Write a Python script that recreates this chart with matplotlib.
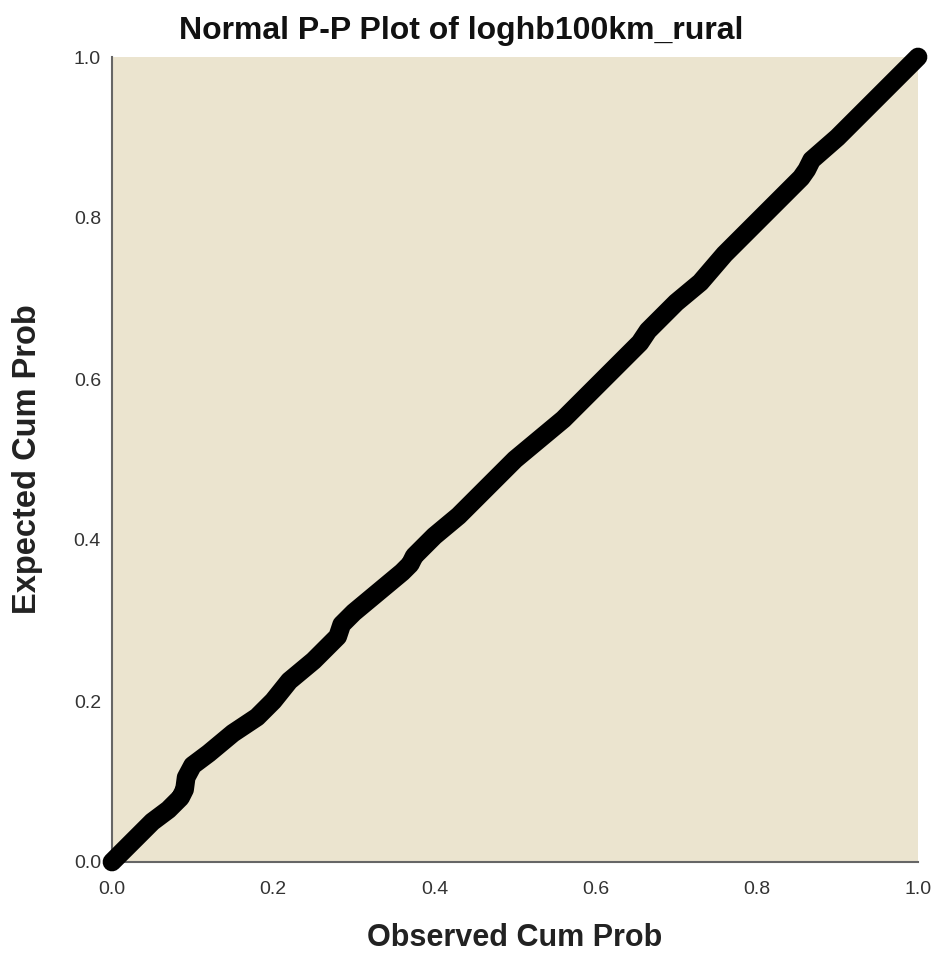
import matplotlib.pyplot as plt

plt.rcParams['font.family'] = ['Liberation Sans', 'DejaVu Sans']

# observed vs expected cumulative probabilities
observed = [0.0, 0.01, 0.03, 0.05, 0.07, 0.085, 0.09, 0.092, 0.10, 0.12, 0.15,
            0.18, 0.20, 0.22, 0.25, 0.27, 0.28, 0.285, 0.30, 0.33, 0.36, 0.37,
            0.375, 0.40, 0.43, 0.46, 0.48, 0.49, 0.50, 0.53, 0.56, 0.60, 0.63,
            0.645, 0.655, 0.665, 0.70, 0.73, 0.76, 0.80, 0.83, 0.855, 0.862,
            0.868, 0.90, 0.93, 0.96, 0.99, 1.0]
expected = [0.0, 0.01, 0.03, 0.05, 0.065, 0.08, 0.09, 0.105, 0.12, 0.135, 0.16,
            0.18, 0.20, 0.225, 0.25, 0.27, 0.28, 0.295, 0.31, 0.335, 0.36, 0.37,
            0.38, 0.405, 0.43, 0.46, 0.48, 0.49, 0.50, 0.525, 0.55, 0.59, 0.62,
            0.635, 0.645, 0.66, 0.695, 0.72, 0.755, 0.795, 0.825, 0.85, 0.86,
            0.872, 0.90, 0.93, 0.96, 0.99, 1.0]

fig = plt.figure(figsize=(9.34, 9.56), dpi=100)
ax = fig.add_axes([112 / 934, 1 - 862 / 956, 806 / 934, 805 / 956])
ax.set_facecolor('#ebe4cf')

ax.plot(observed, expected, color='black', lw=13.5, solid_capstyle='round',
        solid_joinstyle='round', clip_on=False, zorder=3)

ax.set_xlim(0, 1)
ax.set_ylim(0, 1)
ax.set_xticks([0, 0.2, 0.4, 0.6, 0.8, 1.0])
ax.set_yticks([0, 0.2, 0.4, 0.6, 0.8, 1.0])
ax.tick_params(length=0, labelsize=14, labelcolor='#333333')
ax.tick_params(axis='x', pad=14)
ax.tick_params(axis='y', pad=8)
for s in ['top', 'right']:
    ax.spines[s].set_visible(False)
for s in ['left', 'bottom']:
    ax.spines[s].set_color('#666666')
    ax.spines[s].set_linewidth(1.5)

fig.text(0.4935, 1 - 31 / 956, 'Normal P-P Plot of loghb100km_rural', fontsize=23,
         fontweight='bold', color='#111111', ha='center', va='center')
ax.set_xlabel('Observed Cum Prob', fontsize=22, fontweight='bold', color='#222222',
              labelpad=18)
ax.set_ylabel('Expected Cum Prob', fontsize=23.5, fontweight='bold', color='#222222',
              labelpad=22)

fig.savefig('out.png', dpi=100)
